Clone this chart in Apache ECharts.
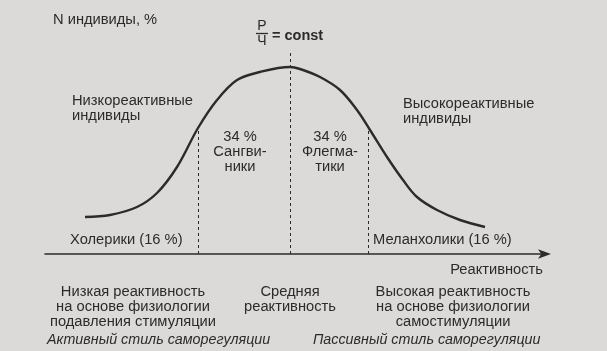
<!DOCTYPE html>
<html>
<head>
<meta charset="utf-8">
<script src="https://cdn.jsdelivr.net/npm/echarts@6/dist/echarts.min.js"></script>
<style>
  html, body { margin: 0; padding: 0; background: #dbdad8; }
  #chart { width: 607px; height: 351px; }
</style>
</head>
<body>
<div id="chart"></div>
<script>
// reactivity (0..100) vs share of individuals (0..110)
const curveX = [8, 13, 18.4, 22.4, 26.4, 30.6, 34.4, 38.4, 43, 49, 51, 55, 59, 62.4, 65, 68.4, 71.6, 74.4, 78.4, 83, 88];
const curveY = [18.5, 19.5, 23.5, 30.5, 43.5, 63, 77, 87, 91, 93.5, 92.5, 88.5, 82, 72, 62, 48.5, 37, 28.5, 22, 17, 13.5];

// dashed dividers: x position and top end
const dividerX = [30.6, 49, 64.6];
const dividerTop = [63, 102, 63];

const ink = '#2b2b2b';
const font = "'Liberation Sans', Arial, sans-serif";
const fs = '14.7px ';

const chart = echarts.init(document.getElementById('chart'));

function txt(x, y, text, opts) {
  return {
    type: 'text',
    style: Object.assign({
      x: x, y: y, text: text,
      fill: ink,
      font: fs + font,
      textAlign: 'left',
      textVerticalAlign: 'middle',
      lineHeight: 15
    }, opts || {})
  };
}

const option = {
  backgroundColor: '#dbdad8',
  animation: false,
  grid: { left: 45, right: 62, top: 34, bottom: 97 },
  xAxis: {
    type: 'value',
    min: 0,
    max: 100,
    axisLine: {
      show: true,
      symbol: ['none', 'arrow'],
      symbolSize: [7, 13],
      symbolOffset: [0, 6],
      lineStyle: { color: ink, width: 1.6 }
    },
    axisTick: { show: false },
    axisLabel: { show: false },
    splitLine: { show: false }
  },
  yAxis: {
    type: 'value',
    min: 0,
    max: 110,
    show: false
  },
  series: [
    {
      type: 'line',
      data: curveX.map((x, i) => [x, curveY[i]]),
      smooth: 0.35,
      symbol: 'none',
      lineStyle: { color: ink, width: 2.4 },
      markLine: {
        silent: true,
        symbol: ['none', 'none'],
        label: { show: false },
        lineStyle: { color: ink, width: 1, type: [3, 3] },
        data: dividerX.map((x, i) => [
          { coord: [x, 0] },
          { coord: [x, dividerTop[i]] }
        ])
      }
    }
  ],
  graphic: [
    txt(53, 20, 'N индивиды, %'),
    txt(262, 26, 'Р', { textAlign: 'center', font: '14px ' + font }),
    { type: 'line', shape: { x1: 256, y1: 33.5, x2: 268, y2: 33.5 }, style: { stroke: ink, lineWidth: 1.3 } },
    txt(262, 41, 'Ч', { textAlign: 'center', font: '14px ' + font }),
    txt(272, 36, '= const', { font: 'bold 14.5px ' + font }),
    txt(72, 93, 'Низкореактивные\nиндивиды', { textVerticalAlign: 'top' }),
    txt(403, 96, 'Высокореактивные\nиндивиды', { textVerticalAlign: 'top' }),
    txt(240, 129, '34 %\nСангви-\nники', { textAlign: 'center', textVerticalAlign: 'top' }),
    txt(330, 129, '34 %\nФлегма-\nтики', { textAlign: 'center', textVerticalAlign: 'top' }),
    txt(70, 240, 'Холерики (16 %)'),
    txt(373, 240, 'Меланхолики (16 %)'),
    txt(543, 270, 'Реактивность', { textAlign: 'right' }),
    txt(133, 284, 'Низкая реактивность\nна основе физиологии\nподавления стимуляции', { textAlign: 'center', textVerticalAlign: 'top' }),
    txt(290, 284, 'Средняя\nреактивность', { textAlign: 'center', textVerticalAlign: 'top' }),
    txt(453, 284, 'Высокая реактивность\nна основе физиологии\nсамостимуляции', { textAlign: 'center', textVerticalAlign: 'top' }),
    txt(47, 340, 'Активный стиль саморегуляции', { font: 'italic 14.3px ' + font }),
    txt(313, 340, 'Пассивный стиль саморегуляции', { font: 'italic 14.3px ' + font })
  ]
};

chart.setOption(option);
</script>
</body>
</html>
